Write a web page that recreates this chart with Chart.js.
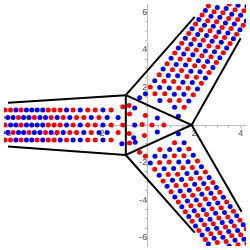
<!DOCTYPE html>
<html>
<head>
<meta charset="utf-8">
<script src="https://cdn.jsdelivr.net/npm/chart.js@4.4.1/dist/chart.umd.min.js"></script>
<style>
  html, body { margin: 0; padding: 0; background: #fff; }
  #wrap { width: 250px; height: 250px; }
</style>
</head>
<body>
<div id="wrap"><canvas id="plot" width="250" height="250"></canvas></div>
<script>
// axis ranges and labelled ticks
const xRange = [-6.14, 4.23];
const yRange = [-6.45, 6.45];
const xTickLabels = [-6, -4, -2, 2, 4];
const yTickLabels = [-6, -4, -2, 2, 4, 6];

// left arm: five horizontal rows
const leftRowY = [0.8, 0.4, 0, -0.4, -0.8];
const leftRowX = [
    [-6.32, -6.10, -5.86, -5.63, -5.41, -5.18, -4.95, -4.72, -4.48, -4.24, -3.99, -3.73, -3.46, -3.18, -2.87, -2.55, -2.23, -1.90, -1.55],
    [-6.21, -5.98, -5.75, -5.52, -5.30, -5.07, -4.84, -4.60, -4.36, -4.12, -3.86, -3.60, -3.32, -3.03, -2.72, -2.40, -2.07, -1.72, -1.25],
    [-6.32, -6.10, -5.86, -5.63, -5.41, -5.18, -4.95, -4.72, -4.48, -4.24, -3.99, -3.73, -3.46, -3.18, -2.87, -2.55, -2.23, -1.90, -1.55, -1.05],
    [-6.21, -5.98, -5.75, -5.52, -5.30, -5.07, -4.84, -4.60, -4.36, -4.12, -3.86, -3.60, -3.32, -3.03, -2.72, -2.40, -2.07, -1.72, -1.25],
    [-6.32, -6.10, -5.86, -5.63, -5.41, -5.18, -4.95, -4.72, -4.48, -4.24, -3.99, -3.73, -3.46, -3.18, -2.87, -2.55, -2.23, -1.90, -1.55]
];
const leftRowColors = [
    'brrbrbbbbrrrbrbrrbr',
    'rbbrbbrbbrbrbrrbrbb',
    'brbbrbbbbrrrbrbrrbrr',
    'bbrbbrbbrbrbrrbrbbr',
    'rrrbrbbrbrrbrbbrrbr'
];

// upper arm: six diagonal rows, (x, y)
const upperRows = [
    [[1.58,0.94],[1.78,1.28],[1.97,1.61],[2.15,1.92],[2.32,2.23],[2.49,2.51],[2.65,2.80],[2.81,3.07],[2.96,3.33],[3.11,3.59],[3.26,3.85],[3.40,4.10],[3.55,4.35],[3.69,4.60],[3.83,4.84],[3.97,5.08],[4.11,5.32],[4.24,5.55]],
    [[1.17,0.94],[1.37,1.30],[1.57,1.64],[1.75,1.96],[1.93,2.26],[2.10,2.55],[2.26,2.84],[2.42,3.12],[2.58,3.38],[2.73,3.64],[2.88,3.90],[3.02,4.16],[3.17,4.41],[3.31,4.66],[3.45,4.90],[3.59,5.14],[3.73,5.39],[3.87,5.62],[4.00,5.85],[4.14,6.09],[4.27,6.32]],
    [[0.96,1.30],[1.16,1.64],[1.35,1.97],[1.53,2.28],[1.70,2.59],[1.87,2.87],[2.03,3.16],[2.19,3.43],[2.34,3.69],[2.49,3.95],[2.64,4.21],[2.78,4.46],[2.93,4.71],[3.07,4.96],[3.21,5.20],[3.35,5.44],[3.49,5.68],[3.62,5.91],[3.76,6.15],[3.89,6.38]],
    [[0.54,1.30],[0.75,1.66],[0.94,1.97],[1.13,2.32],[1.30,2.62],[1.47,2.91],[1.64,3.20],[1.80,3.48],[1.95,3.74],[2.10,4.00],[2.25,4.26],[2.40,4.52],[2.54,4.77],[2.69,5.02],[2.83,5.26],[2.97,5.50],[3.11,5.74],[3.24,5.98],[3.38,6.21],[3.51,6.45]],
    [[0.33,1.66],[0.53,2.00],[0.72,2.33],[0.90,2.64],[1.08,2.95],[1.24,3.23],[1.41,3.52],[1.56,3.79],[1.72,4.05],[1.87,4.31],[2.01,4.57],[2.16,4.82],[2.30,5.07],[2.45,5.32],[2.59,5.56],[2.73,5.80],[2.86,6.04],[3.00,6.27]],
    [[-0.08,1.66],[0.13,2.02],[0.32,2.36],[0.51,2.68],[0.68,2.98],[0.85,3.27],[1.02,3.56],[1.18,3.84],[1.33,4.10],[1.48,4.36],[1.63,4.62],[1.78,4.88],[1.92,5.13],[2.07,5.38],[2.21,5.62],[2.35,5.86],[2.49,6.10],[2.62,6.34]]
];
const upperRowColors = [
    'rbrbrbrbrbrbrbrbrb',
    'brbrbrbrbrbrbrbrbrbrb',
    'rbrbrbrbrbrbrbrbrbrb',
    'brbrbrbrbrbrbrbrbrbr',
    'rbrbrbrbrbrbrbrbrb',
    'brbrbrbrbrbrbrbrbr'
];

// lower arm: six diagonal rows, (x, y)
const lowerRows = [
    [[1.58,-0.94],[1.78,-1.28],[1.97,-1.61],[2.15,-1.92],[2.32,-2.23],[2.49,-2.51],[2.65,-2.80],[2.81,-3.07],[2.96,-3.33],[3.11,-3.59],[3.26,-3.85],[3.40,-4.10],[3.55,-4.35],[3.69,-4.60],[3.83,-4.84],[3.97,-5.08],[4.11,-5.32],[4.24,-5.55]],
    [[1.17,-0.94],[1.37,-1.30],[1.57,-1.64],[1.75,-1.96],[1.93,-2.26],[2.10,-2.55],[2.26,-2.84],[2.42,-3.12],[2.58,-3.38],[2.73,-3.64],[2.88,-3.90],[3.02,-4.16],[3.17,-4.41],[3.31,-4.66],[3.45,-4.90],[3.59,-5.14],[3.73,-5.39],[3.87,-5.62],[4.00,-5.85],[4.14,-6.09],[4.27,-6.32]],
    [[0.96,-1.30],[1.16,-1.64],[1.35,-1.97],[1.53,-2.28],[1.70,-2.59],[1.87,-2.87],[2.03,-3.16],[2.19,-3.43],[2.34,-3.69],[2.49,-3.95],[2.64,-4.21],[2.78,-4.46],[2.93,-4.71],[3.07,-4.96],[3.21,-5.20],[3.35,-5.44],[3.49,-5.68],[3.62,-5.91],[3.76,-6.15],[3.89,-6.38]],
    [[0.54,-1.30],[0.75,-1.66],[0.94,-1.97],[1.13,-2.32],[1.30,-2.62],[1.47,-2.91],[1.64,-3.20],[1.80,-3.48],[1.95,-3.74],[2.10,-4.00],[2.25,-4.26],[2.40,-4.52],[2.54,-4.77],[2.69,-5.02],[2.83,-5.26],[2.97,-5.50],[3.11,-5.74],[3.24,-5.98],[3.38,-6.21],[3.51,-6.45]],
    [[0.33,-1.66],[0.53,-2.00],[0.72,-2.33],[0.90,-2.64],[1.08,-2.95],[1.24,-3.23],[1.41,-3.52],[1.56,-3.79],[1.72,-4.05],[1.87,-4.31],[2.01,-4.57],[2.16,-4.82],[2.30,-5.07],[2.45,-5.32],[2.59,-5.56],[2.73,-5.80],[2.86,-6.04],[3.00,-6.27]],
    [[-0.08,-1.66],[0.13,-2.02],[0.32,-2.36],[0.51,-2.68],[0.68,-2.98],[0.85,-3.27],[1.02,-3.56],[1.18,-3.84],[1.33,-4.10],[1.48,-4.36],[1.63,-4.62],[1.78,-4.88],[1.92,-5.13],[2.07,-5.38],[2.21,-5.62],[2.35,-5.86],[2.49,-6.10],[2.62,-6.34]]
];
const lowerRowColors = [
    'brbrbrbrbrbrbrbrbr',
    'rbrbrbrbrbrbrbrbrbrbr',
    'brbrbrbrbrbrbrbrbrbr',
    'rbrbrbrbrbrbrbrbrbrb',
    'brbrbrbrbrbrbrbrbr',
    'rbrbrbrbrbrbrbrbrb'
];

// points around the junction
const junction = [[-1.05,0.97],[-1.09,-1.00],[1.33,0.47],[-0.33,1.45],[1.33,-0.47],[-0.33,-1.45],
    [-0.78,1.04],[-0.54,0.90],[-0.76,0.58],[-0.08,0.50],[0.43,0.37],[-0.54,0.00],[-0.22,0.02],
    [0.20,0.00],[0.71,0.00],[-0.78,-0.45],[0.43,-0.37],[-0.58,-0.68],[-0.12,-0.56],[-0.76,-0.96],[-0.52,-0.92]];
const junctionColors = 'rbbbbrrbrrbbrrrrbbrrb';

// black outline
const triangle = [[-0.92,1.59],[-0.92,-1.60],[1.90,0.00],[-0.92,1.59]];
const armEdges = [
    [[-0.92,1.59],[-5.97,1.18]],
    [[-0.92,-1.60],[-5.97,-1.15]],
    [[-0.92,1.59],[2.03,5.76]],
    [[1.90,0.00],[4.00,4.62]],
    [[-0.92,-1.60],[2.03,-5.74]],
    [[1.90,0.00],[4.04,-4.62]]
];

const RED = 'rgb(255,0,0)';
const BLUE = 'rgb(0,0,255)';

const points = [];
const pointColors = [];

function addPairs(rows, colorStrings) {
    rows.forEach((row, r) => {
        row.forEach((p, i) => {
            points.push({x: p[0], y: p[1]});
            pointColors.push(colorStrings[r][i] === 'b' ? BLUE : RED);
        });
    });
}

leftRowX.forEach((row, r) => {
    row.forEach((x, i) => {
        points.push({x: x, y: leftRowY[r]});
        pointColors.push(leftRowColors[r][i] === 'b' ? BLUE : RED);
    });
});
addPairs(upperRows, upperRowColors);
addPairs(lowerRows, lowerRowColors);
addPairs([junction], [junctionColors]);

const toXY = arr => arr.map(p => ({x: p[0], y: p[1]}));

const lineSets = [triangle].concat(armEdges).map(seg => ({
    data: toXY(seg),
    showLine: true,
    borderColor: '#000',
    borderWidth: 2,
    pointRadius: 0,
    fill: false,
    tension: 0
}));

const tickFont = {family: '"Liberation Sans", Arial, sans-serif', size: 9};

function noPad(scale) {
    scale.paddingLeft = 0;
    scale.paddingRight = 0;
    scale.paddingTop = 0;
    scale.paddingBottom = 0;
}

const ctx = document.getElementById('plot').getContext('2d');
new Chart(ctx, {
    type: 'scatter',
    data: {
        datasets: lineSets.concat([{
            data: points,
            pointRadius: 2.5,
            pointBackgroundColor: pointColors,
            pointBorderWidth: 0,
            showLine: false
        }])
    },
    options: {
        responsive: false,
        animation: false,
        layout: {padding: 0},
        plugins: {legend: {display: false}, tooltip: {enabled: false}},
        scales: {
            x: {
                type: 'linear',
                min: xRange[0],
                max: xRange[1],
                position: {y: 0},
                border: {color: '#bdbdbd'},
                grid: {drawOnChartArea: false, tickLength: 2, tickColor: '#bdbdbd'},
                ticks: {
                    stepSize: 0.5,
                    includeBounds: false,
                    autoSkip: false,
                    maxRotation: 0,
                    padding: 1,
                    color: '#555',
                    font: tickFont,
                    callback: v => xTickLabels.includes(v) ? String(v) : ''
                },
                afterFit: noPad
            },
            y: {
                type: 'linear',
                min: yRange[0],
                max: yRange[1],
                position: {x: 0},
                border: {color: '#bdbdbd'},
                grid: {drawOnChartArea: false, tickLength: 2, tickColor: '#bdbdbd'},
                ticks: {
                    stepSize: 0.5,
                    includeBounds: false,
                    autoSkip: false,
                    padding: 1,
                    color: '#555',
                    font: tickFont,
                    callback: v => yTickLabels.includes(v) ? String(v) : ''
                },
                afterFit: noPad
            }
        }
    }
});
</script>
</body>
</html>
